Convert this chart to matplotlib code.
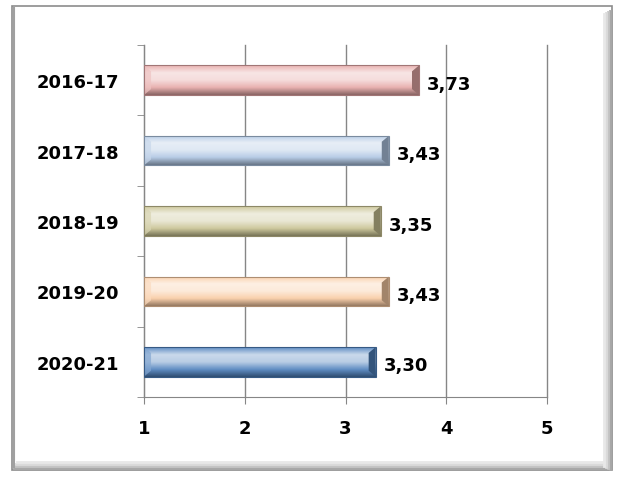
#!/usr/bin/env python3

import numpy as np
import matplotlib.pyplot as plt
from matplotlib.patches import Rectangle
from matplotlib.colors import LinearSegmentedColormap, to_rgb

years = ['2016-17', '2017-18', '2018-19', '2019-20', '2020-21']
values = [3.73, 3.43, 3.35, 3.43, 3.30]
labels = ['3,73', '3,43', '3,35', '3,43', '3,30']
colors = ['#E6A9A8', '#AFC6E3', '#C9C393', '#F9CBA3', '#4F81BD']
x_ticks = [1, 2, 3, 4, 5]


def shade(c, f):
    r = np.array(to_rgb(c))
    if f > 0:
        return tuple(r + (1 - r) * f)
    return tuple(r * (1 + f))


fig = plt.figure(figsize=(6.21, 4.81), dpi=100)
W, H = 621, 481

# chart frame with a bevel look
fig.patches.append(Rectangle((12 / W, 1 - 471 / H), 600 / W, 464 / H,
                             transform=fig.transFigure, facecolor='white',
                             edgecolor='#8c8c8c', linewidth=1.2, zorder=-5))
for i, g in enumerate(['#a8a8a8', '#c4c4c4', '#dadada', '#e8e8e8']):
    # right and bottom shading
    fig.add_artist(plt.Line2D([(610 - 2 * i) / W] * 2, [1 - (470 - i) / H, 1 - (12 + i) / H],
                              transform=fig.transFigure, color=g, linewidth=2, zorder=-4))
    fig.add_artist(plt.Line2D([(14 + i) / W, (610 - 2 * i) / W], [1 - (469 - 2 * i) / H] * 2,
                              transform=fig.transFigure, color=g, linewidth=2, zorder=-4))
fig.add_artist(plt.Line2D([14 / W] * 2, [1 - 468 / H, 1 - 9 / H],
                          transform=fig.transFigure, color='#a0a0a0', linewidth=1.5, zorder=-4))

ax = fig.add_axes([144 / W, 1 - 398 / H, 403 / W, 352 / H])
ax.set_facecolor('none')
ax.set_xlim(1, 5)
ax.set_ylim(len(years) - 0.5, -0.5)

pos = np.arange(len(years))
h = 0.42
bars = ax.barh(pos, [v - 1 for v in values], left=1, height=h, color='none',
               edgecolor='none', zorder=3)

# gradient fill for each bar
for b, c in zip(bars, colors):
    x0, y0 = b.get_x(), b.get_y()
    w, bh = b.get_width(), b.get_height()
    cmap = LinearSegmentedColormap.from_list(
        'g', [shade(c, 0.1), shade(c, 0.7), shade(c, 0.6), shade(c, 0.1), shade(c, -0.4)])
    grad = np.linspace(0, 1, 64).reshape(-1, 1)
    im = ax.imshow(grad, cmap=cmap, aspect='auto', extent=(x0, x0 + w, y0 + bh, y0),
                   zorder=3, interpolation='bilinear')
    im.set_clip_path(b)
    # bevel at the ends
    d = 0.07
    ax.fill([x0 + w - d, x0 + w, x0 + w, x0 + w - d],
            [y0 + bh * 0.2, y0, y0 + bh, y0 + bh * 0.8],
            color=shade(c, -0.35), zorder=4, linewidth=0)
    ax.fill([x0, x0 + d, x0 + d, x0],
            [y0, y0 + bh * 0.2, y0 + bh * 0.8, y0 + bh],
            color=shade(c, 0.3), zorder=4, linewidth=0, alpha=0.7)
    ax.add_patch(Rectangle((x0, y0), w, bh, facecolor='none',
                           edgecolor=shade(c, -0.3), linewidth=0.8, zorder=5))

for p, v, lab in zip(pos, values, labels):
    ax.text(v + 0.08, p + 0.05, lab, va='center', ha='left', fontsize=13,
            fontweight='bold')

ax.set_xticks(x_ticks)
ax.set_xticklabels([str(t) for t in x_ticks], fontsize=13, fontweight='bold')
ax.set_yticks(pos)
ax.set_yticklabels(years, fontsize=13, fontweight='bold')
ax.set_yticks(np.arange(len(years) + 1) - 0.5, minor=True)
ax.tick_params(axis='y', which='major', length=0, pad=18)
ax.tick_params(axis='y', which='minor', length=5, color='#868686')
ax.tick_params(axis='x', length=5, color='#868686', pad=11)
ax.grid(axis='x', color='#868686', linewidth=1, zorder=0)
for gl in ax.get_xgridlines():
    gl.set_clip_on(False)
for s in ['top', 'right']:
    ax.spines[s].set_visible(False)
ax.spines['left'].set_color('#868686')
ax.spines['bottom'].set_color('#868686')

plt.savefig('out.png', dpi=100)
